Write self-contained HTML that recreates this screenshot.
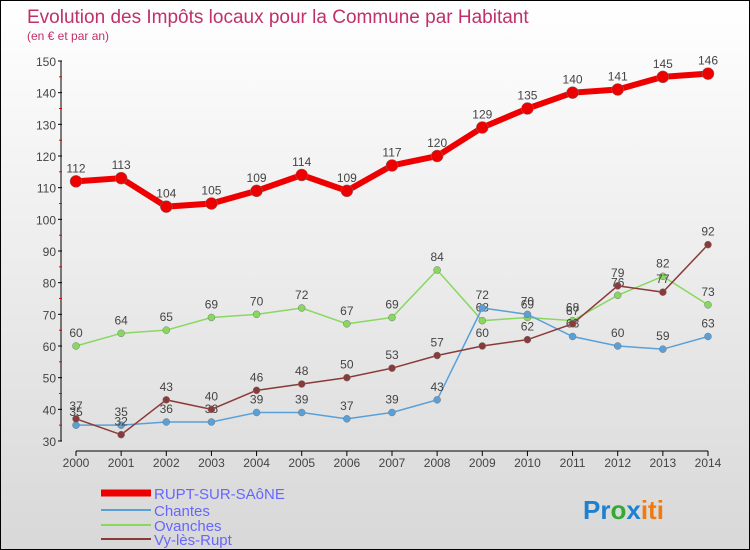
<!DOCTYPE html>
<html><head><meta charset="utf-8"><style>
body{margin:0}
#c{width:750px;height:550px;position:relative;box-sizing:border-box;border:1px solid #000;background:linear-gradient(#fff,#d8d8d8);font-family:"Liberation Sans",sans-serif;overflow:hidden}
</style></head><body>
<div id="c">
<svg id="s" width="750" height="550" style="position:absolute;left:0;top:0">
<text x="26" y="22" font-size="19" fill="#c0306a">Evolution des Impôts locaux pour la Commune par Habitant</text>
<text x="26" y="39" font-size="12" fill="#c0306a">(en € et par an)</text>
<g id="axes"></g><g id="series"></g>
<g>
<line x1="100" y1="492" x2="150" y2="492" stroke="#e00" stroke-width="7"/>
<text x="153" y="498" font-size="15" fill="#66f">RUPT-SUR-SAôNE</text>
<line x1="100" y1="509" x2="150" y2="509" stroke="#5aa0d8" stroke-width="2"/>
<text x="153" y="515" font-size="15" fill="#66f">Chantes</text>
<line x1="100" y1="524" x2="150" y2="524" stroke="#88d860" stroke-width="2"/>
<text x="153" y="530" font-size="15" fill="#66f">Ovanches</text>
<line x1="100" y1="538" x2="150" y2="538" stroke="#8b3a3a" stroke-width="2"/>
<text x="153" y="544" font-size="15" fill="#66f">Vy-lès-Rupt</text>
</g>
<text x="582" y="518" font-size="26" font-weight="bold"><tspan fill="#1e80d0">Pr</tspan><tspan fill="#3a3">o</tspan><tspan fill="#1e80d0">x</tspan><tspan fill="#f07a10">iti</tspan></text>
</svg>
</div>
<script>
const years=[2000,2001,2002,2003,2004,2005,2006,2007,2008,2009,2010,2011,2012,2013,2014];
const yTicks=[30,40,50,60,70,80,90,100,110,120,130,140,150];
const rupt=[112,113,104,105,109,114,109,117,120,129,135,140,141,145,146];
const chantes=[35,35,36,36,39,39,37,39,43,72,70,63,60,59,63];
const ovanches=[60,64,65,69,70,72,67,69,84,68,69,68,76,82,73];
const vy=[37,32,43,40,46,48,50,53,57,60,62,67,79,77,92];
const NS="http://www.w3.org/2000/svg";
function X(i){return 75+i*(707-75)/(years.length-1);}
function Y(v){return 440-(v-30)*(380/120);}
function mk(t,a,p){const e=document.createElementNS(NS,t);for(const k in a)e.setAttribute(k,a[k]);p.appendChild(e);return e;}
const ax=document.getElementById('axes'),sg=document.getElementById('series');
const yl=mk('line',{x1:60,y1:Y(150),x2:60,y2:Y(30),stroke:'#000'},ax);


const xl=mk('line',{x1:75,y1:450,x2:707,y2:450,stroke:'#000'},ax);


yTicks.forEach(v=>{
 mk('line',{x1:57,y1:Y(v),x2:61,y2:Y(v),stroke:'#000'},ax);
 if(v<150)mk('line',{x1:58,y1:Y(v+5),x2:61,y2:Y(v+5),stroke:'#e00'},ax);
 const t=mk('text',{x:55,y:Y(v)+5,'font-size':12,fill:'#444','text-anchor':'end'},ax);t.textContent=v;
 
 
});
years.forEach((yr,i)=>{
 mk('line',{x1:X(i),y1:450,x2:X(i),y2:455,stroke:'#000'},ax);
 const t=mk('text',{x:X(i),y:466,'font-size':12,fill:'#444','text-anchor':'middle'},ax);t.textContent=yr;
 
 
});
function series(d,col,w,r,name){
 const g=mk('g',{},sg);
 
 
 mk('polyline',{points:d.map((v,i)=>X(i)+','+Y(v)).join(' '),fill:'none',stroke:col,'stroke-width':w},g);
 d.forEach((v,i)=>{
  const c=mk('circle',{cx:X(i),cy:Y(v),r:r,fill:col,stroke:'#777','stroke-width':0.5},g);
  
  
  const t=mk('text',{x:X(i),y:Y(v)-9,'font-size':12,fill:'#444','text-anchor':'middle'},g);t.textContent=v;
  
  
 });
}
series(ovanches,'#88d860',1.5,3.5,'series-ovanches');
series(chantes,'#5aa0d8',1.5,3.5,'series-chantes');
series(vy,'#8b3a3a',1.5,3.5,'series-vy');
series(rupt,'#e00',6,6,'series-rupt');
</script>
</body></html>
